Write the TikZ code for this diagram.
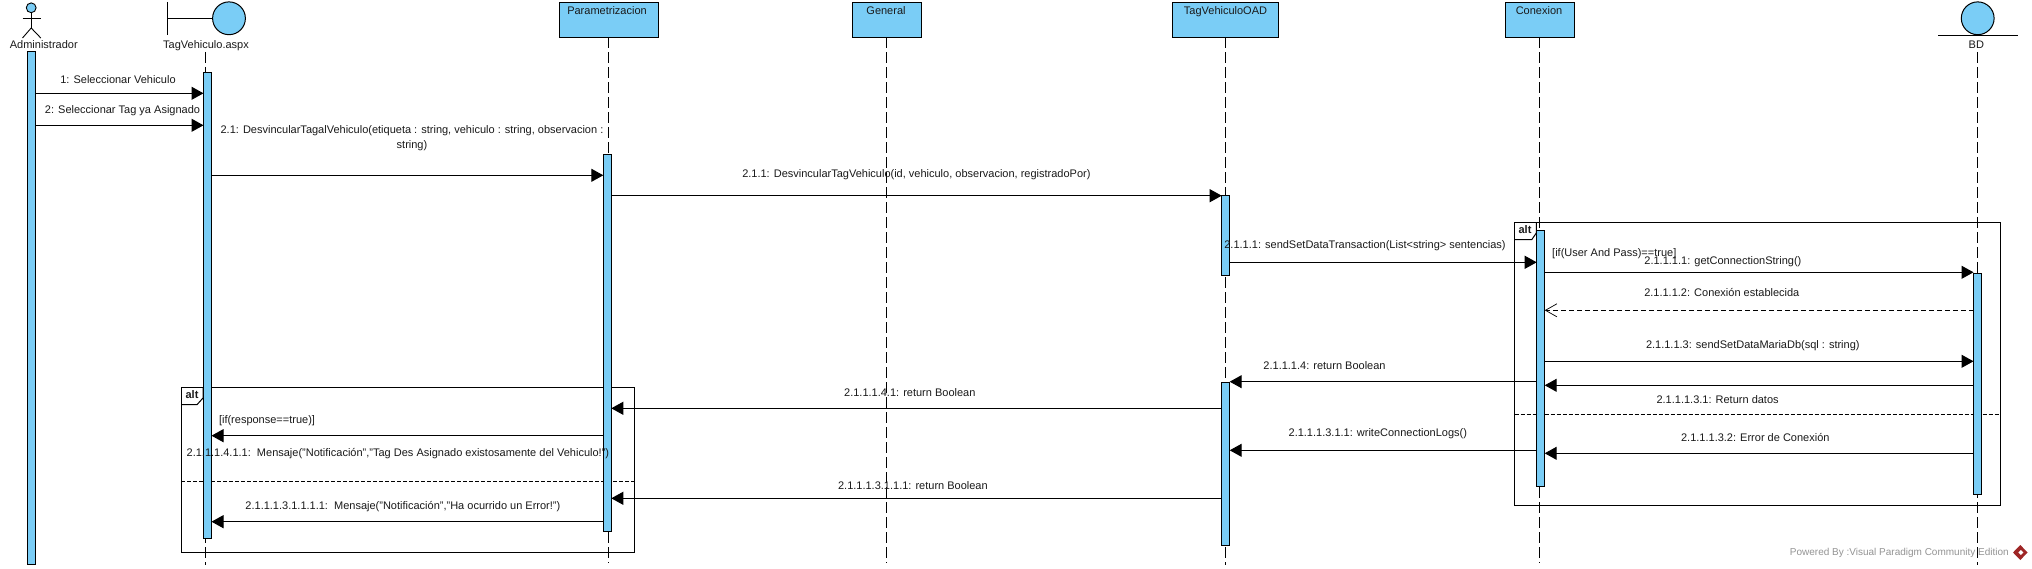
\documentclass[tikz,border=0pt]{standalone}
\usepackage{fontspec}
\setmainfont{Liberation Sans}
\usetikzlibrary{arrows.meta}
\definecolor{vpblue}{HTML}{7ACDF6}
\definecolor{ink}{HTML}{1A1A1A}
\tikzset{
  x=1pt,y=-1pt,
  lbl/.style={inner sep=0pt,outer sep=0pt,text=ink,font=\fontsize{11}{15}\selectfont,text height=6pt,text depth=0pt},
  lbltwo/.style={inner sep=0pt,outer sep=0pt,text=ink,font=\fontsize{11}{15}\selectfont,align=center},
  leftlbl/.style={lbl,anchor=west},
  classbox/.style={draw=black,fill=vpblue,line width=1pt,inner sep=0pt,outer sep=0pt,anchor=north west},
  ball/.style={circle,draw=black,fill=vpblue,line width=1pt,inner sep=0pt,outer sep=0pt,minimum size=32.8pt},
  lifeline/.style={draw=black,line width=.7pt,dash pattern=on 11pt off 4pt},
  activation/.style={draw=black,fill=vpblue,line width=1pt,inner sep=0pt,outer sep=0pt,minimum width=8pt,anchor=north},
  call/.style={draw=black,line width=1pt,-{Triangle[length=12pt,width=13pt]}},
  reply/.style={draw=black,line width=.9pt,dash pattern=on 5pt off 3pt,-{Straight Barb[length=11.5pt,width=13pt,line width=.7pt]}},
  fragment/.style={draw=black,line width=1pt},
  divider/.style={draw=black,line width=.9pt,dash pattern=on 4pt off 2pt},
  stick/.style={draw=black,line width=.9pt},
}
\newcommand{\barnode}[5]{\node[activation,minimum height=#4pt] (#1) at (#2,#3) {};}
\begin{document}
\begin{tikzpicture}
\useasboundingbox (0,0) rectangle (2032,569);
\fill[white] (0,0) rectangle (2032,569);

% message heights
\foreach \n/\v in {m1/93.3,m2/125.3,m3/175.3,m4/195.7,m5/262.3,m6/272.3,m7/310.3,m8/361.3,m9/381.7,m10/385.3,m11/408.3,m12/435.7,m13/450.3,m14/453.3,m15/498.3,m16/521.7}
  {\coordinate (\n) at (0,\v);}

% header objects
\node[circle,draw=black,fill=vpblue,line width=.9pt,inner sep=0pt,outer sep=0pt,minimum size=9.8pt] (adminhead) at (31.2,7.8) {};
\coordinate (adminhip) at (31.2,28);
\coordinate (adminarmL) at (22.5,18.3);
\coordinate (adminarmR) at (40.8,18.3);
\coordinate (adminlegL) at (22.5,38);
\coordinate (adminlegR) at (40.8,38);
\draw[stick] (adminhead.south) -- (adminhip);
\draw[stick] (adminarmL) -- (adminarmR);
\draw[stick] (adminlegL) -- (adminhip) -- (adminlegR);
\node[lbl] (adminlabel) at (43.8,45.7) {Administrador};

\node[ball] (tagball) at (229,18.3) {};
\coordinate (tagbarTop) at (167,2);
\coordinate (tagbarBot) at (167,35);
\coordinate (tagbarMid) at (167,18.3);
\draw[stick] (tagbarTop) -- (tagbarBot);
\draw[stick] (tagbarMid) -- (tagball.west);
\node[lbl] (taglabel) at (206,45.7) {TagVehiculo.aspx};

\node[classbox,minimum width=98.9pt,minimum height=35pt] (par) at (559.4,2.3) {};
\node[lbl] (parlabel) at (607,11.3) {Parametrizacion};
\node[classbox,minimum width=68.9pt,minimum height=35pt] (gen) at (852.6,2.3) {};
\node[lbl] (genlabel) at (886,11.3) {General};
\node[classbox,minimum width=106.2pt,minimum height=35pt] (oad) at (1172.2,2.3) {};
\node[lbl] (oadlabel) at (1225.5,11.3) {TagVehiculoOAD};
\node[classbox,minimum width=69.4pt,minimum height=35pt] (con) at (1505.3,2.3) {};
\node[lbl] (conlabel) at (1539,11.3) {Conexion};

\node[ball] (bdball) at (1977.7,18.3) {};
\coordinate (bdlineL) at (1938,35);
\coordinate (bdlineR) at (2017.8,35);
\draw[stick] (bdlineL) -- (bdlineR);
\node[lbl] (bdlabel) at (1976.3,45.5) {BD};

% lifelines
\coordinate (tagstart) at (205.1,52);  \coordinate (tagend) at (205.1,565);
\coordinate (parend) at (608.4,563);
\coordinate (genend) at (886.4,563);
\coordinate (oadend) at (1225.5,565);
\coordinate (conend) at (1539.5,563);
\coordinate (bdstart) at (1977.7,52);  \coordinate (bdend) at (1977.7,565);
\draw[lifeline] (tagstart) -- (tagend);
\draw[lifeline] (par.south -| parend) -- (parend);
\draw[lifeline] (gen.south -| genend) -- (genend);
\draw[lifeline] (oad.south -| oadend) -- (oadend);
\draw[lifeline] (con.south -| conend) -- (conend);
\draw[lifeline] (bdstart) -- (bdend);

% combined fragments
\coordinate (fA1) at (181.3,387.3); \coordinate (fA2) at (634.4,552.3);
\coordinate (fAd) at (0,481.3);
\draw[fragment] (fA1) rectangle (fA2);
\draw[fragment] (181.3,404.7) -- (197,404.7) -- (203,398) -- (203,387.3);
\draw[divider] (fA1 |- fAd) -- (fA2 |- fAd);
\coordinate (fB1) at (1514.5,222.7); \coordinate (fB2) at (2000.2,505.3);
\coordinate (fBd) at (0,414.3);
\draw[fragment] (fB1) rectangle (fB2);
\draw[fragment] (1514.5,239.7) -- (1531.7,239.7) -- (1536.3,233) -- (1536.3,222.7);
\draw[divider] (fB1 |- fBd) -- (fB2 |- fBd);
\node[lbl,font=\fontsize{11}{13}\bfseries] (altA) at (192,395.7) {alt};
\node[lbl,font=\fontsize{11}{13}\bfseries] (altB) at (1525,230.7) {alt};

% activations
\barnode{adminbar}{31.7}{52}{512}{}
\barnode{tagact}{207.5}{73}{465}{}
\barnode{paract}{607.3}{155}{376.3}{}
\barnode{oadactA}{1225.7}{195.7}{79.6}{}
\barnode{oadactB}{1225.7}{382.3}{163}{}
\barnode{conact}{1540.7}{230.3}{256.4}{}
\barnode{bdact}{1977.5}{273.3}{221}{}

% messages
\draw[call] (adminbar.east |- m1) -- (tagact.west |- m1);
\draw[call] (adminbar.east |- m2) -- (tagact.west |- m2);
\draw[call] (tagact.east |- m3) -- (paract.west |- m3);
\draw[call] (paract.east |- m4) -- (oadactA.west |- m4);
\draw[call] (oadactA.east |- m5) -- (conact.west |- m5);
\draw[call] (conact.east |- m6) -- (bdact.west |- m6);
\draw[reply] (bdact.west |- m7) -- (conact.east |- m7);
\draw[call] (conact.east |- m8) -- (bdact.west |- m8);
\draw[call] (conact.west |- m9) -- (oadactB.east |- m9);
\draw[call] (bdact.west |- m10) -- (conact.east |- m10);
\draw[call] (oadactB.west |- m11) -- (paract.east |- m11);
\draw[call] (paract.west |- m12) -- (tagact.east |- m12);
\draw[call] (conact.west |- m13) -- (oadactB.east |- m13);
\draw[call] (bdact.west |- m14) -- (conact.east |- m14);
\draw[call] (oadactB.west |- m15) -- (paract.east |- m15);
\draw[call] (paract.west |- m16) -- (tagact.east |- m16);

% message labels
\node[lbl] (t1) at (118,80.3) {1: Seleccionar Vehiculo};
\node[lbl] (t2) at (122.5,111) {2: Seleccionar Tag ya Asignado};
\node[lbltwo] (t3) at (412,138.2) {2.1: DesvincularTagalVehiculo(etiqueta : string, vehiculo : string, observacion :\\string)};
\node[lbl] (t4) at (916.4,174.7) {2.1.1: DesvincularTagVehiculo(id, vehiculo, observacion, registradoPor)};
\node[lbl] (t5) at (1365,246) {2.1.1.1: sendSetDataTransaction(List<string> sentencias)};
\node[leftlbl] (g1) at (1552.2,253.3) {[if(User And Pass)==true]};
\node[lbl] (t6) at (1722.9,261.7) {2.1.1.1.1: getConnectionString()};
\node[lbl] (t7) at (1721.8,293.3) {2.1.1.1.2: Conexión establecida};
\node[lbl] (t8) at (1752.8,345.3) {2.1.1.1.3: sendSetDataMariaDb(sql : string)};
\node[lbl] (t9) at (1324.5,366) {2.1.1.1.4: return Boolean};
\node[lbl] (t10) at (1717.6,400.3) {2.1.1.1.3.1: Return datos};
\node[lbl] (t11) at (909.8,393.3) {2.1.1.1.4.1: return Boolean};
\node[leftlbl] (g2) at (219,420) {[if(response==true)]};
\node[lbl] (t12) at (397.9,453.7) {2.1.1.1.4.1.1:\ \ Mensaje("Notificación","Tag Des Asignado existosamente del Vehiculo!")};
\node[lbl] (t13) at (1377.8,433.3) {2.1.1.1.3.1.1: writeConnectionLogs()};
\node[lbl] (t14) at (1755.3,438.3) {2.1.1.1.3.2: Error de Conexión};
\node[lbl] (t15) at (912.9,486.3) {2.1.1.1.3.1.1.1: return Boolean};
\node[lbl] (t16) at (402.9,506.7) {2.1.1.1.3.1.1.1.1:\ \ Mensaje("Notificación","Ha ocurrido un Error!")};

% watermark
\node[lbl,font=\fontsize{10}{12}\selectfont,text=black!42,anchor=east] (wm) at (2008.7,552.7) {Powered By :Visual Paradigm Community Edition};
\fill[red!55!black!85] (2020.3,545) -- (2027.6,552.5) -- (2020.3,560) -- (2013,552.5) -- cycle;
\fill[white] (2020.8,550) -- (2023.3,552.5) -- (2020.8,555) -- (2018.3,552.5) -- cycle;
\end{tikzpicture}
\end{document}
